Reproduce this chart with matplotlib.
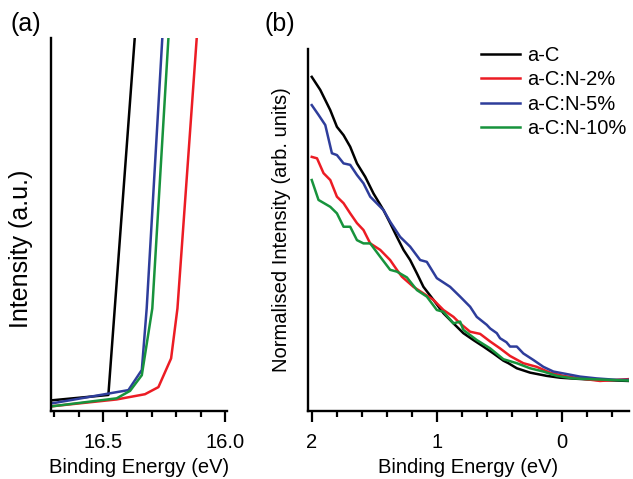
import matplotlib
matplotlib.use("Agg")
import matplotlib.pyplot as plt
from matplotlib.ticker import FixedLocator
import numpy as np

plt.rcParams['font.family'] = ['Liberation Sans', 'DejaVu Sans']
fs = 14.5

labels = ["a-C", "a-C:N-2%", "a-C:N-5%", "a-C:N-10%"]
colors = ["#000000", "#ec1c24", "#2e3d9b", "#17933c"]

# panel (a): valence band onset, binding energy (eV) vs intensity (a.u.)
a_E_aC = [16.704, 16.478, 16.370]
a_I_aC = [0.029, 0.043, 1.0]
a_E_2 = [16.704, 16.444, 16.328, 16.273, 16.221, 16.195, 16.116]
a_I_2 = [0.013, 0.031, 0.045, 0.064, 0.141, 0.275, 1.0]
a_E_5 = [16.704, 16.396, 16.341, 16.321, 16.257]
a_I_5 = [0.021, 0.056, 0.110, 0.275, 1.0]
a_E_10 = [16.704, 16.444, 16.389, 16.341, 16.298, 16.232]
a_I_10 = [0.013, 0.034, 0.054, 0.096, 0.275, 1.0]

# panel (b): normalised near-Fermi-level spectra
b_E_aC = [2.000, 1.932, 1.852, 1.799, 1.746, 1.693, 1.639, 1.573, 1.507, 1.427,
          1.374, 1.320, 1.267, 1.214, 1.160, 1.108, 1.028, 0.948, 0.868, 0.789,
          0.709, 0.629, 0.549, 0.469, 0.429, 0.362, 0.256, 0.123, 0.017, -0.116,
          -0.276, -0.53]
b_I_aC = [0.923, 0.887, 0.831, 0.785, 0.762, 0.730, 0.684, 0.647, 0.601, 0.555,
          0.519, 0.481, 0.445, 0.417, 0.380, 0.343, 0.307, 0.270, 0.242, 0.215,
          0.196, 0.178, 0.159, 0.139, 0.132, 0.118, 0.106, 0.097, 0.092, 0.089,
          0.086, 0.083]
b_E_2 = [2.000, 1.958, 1.906, 1.852, 1.799, 1.746, 1.693, 1.639, 1.587, 1.533,
         1.453, 1.374, 1.320, 1.280, 1.188, 1.108, 1.028, 0.948, 0.868, 0.815,
         0.735, 0.655, 0.575, 0.496, 0.416, 0.310, 0.203, 0.097, -0.010, -0.143,
         -0.302, -0.436, -0.53]
b_I_2 = [0.702, 0.698, 0.657, 0.638, 0.592, 0.574, 0.546, 0.519, 0.500, 0.463,
         0.445, 0.417, 0.390, 0.371, 0.343, 0.325, 0.307, 0.279, 0.260, 0.242,
         0.219, 0.213, 0.192, 0.173, 0.152, 0.132, 0.122, 0.106, 0.097, 0.090,
         0.083, 0.086, 0.088]
b_E_5 = [2.000, 1.946, 1.892, 1.839, 1.799, 1.746, 1.693, 1.639, 1.587, 1.533,
         1.427, 1.374, 1.294, 1.214, 1.134, 1.081, 1.001, 0.895, 0.815, 0.735,
         0.682, 0.602, 0.575, 0.522, 0.496, 0.445, 0.416, 0.362, 0.310, 0.230,
         0.150, 0.070, -0.037, -0.143, -0.276, -0.436, -0.53]
b_I_5 = [0.845, 0.818, 0.790, 0.712, 0.707, 0.684, 0.680, 0.652, 0.629, 0.592,
         0.555, 0.523, 0.481, 0.454, 0.417, 0.412, 0.367, 0.343, 0.316, 0.288,
         0.260, 0.238, 0.228, 0.215, 0.201, 0.190, 0.178, 0.178, 0.159, 0.141,
         0.122, 0.109, 0.102, 0.095, 0.090, 0.086, 0.086]
b_E_10 = [2.000, 1.946, 1.852, 1.799, 1.746, 1.693, 1.639, 1.587, 1.533, 1.453,
          1.374, 1.320, 1.240, 1.160, 1.081, 1.001, 0.948, 0.868, 0.815, 0.789,
          0.682, 0.575, 0.469, 0.362, 0.256, 0.150, 0.043, -0.089, -0.222, -0.382,
          -0.53]
b_I_10 = [0.638, 0.583, 0.564, 0.546, 0.509, 0.509, 0.472, 0.463, 0.463, 0.426,
          0.390, 0.385, 0.369, 0.334, 0.316, 0.279, 0.274, 0.242, 0.247, 0.224,
          0.196, 0.173, 0.143, 0.132, 0.118, 0.109, 0.097, 0.090, 0.088, 0.086,
          0.084]

a_data = [(a_E_aC, a_I_aC), (a_E_2, a_I_2), (a_E_5, a_I_5), (a_E_10, a_I_10)]
b_data = [(b_E_aC, b_I_aC), (b_E_2, b_I_2), (b_E_5, b_I_5), (b_E_10, b_I_10)]

fig = plt.figure(figsize=(6.33, 4.79), dpi=100)
axa = fig.add_axes([51/633, 1-411/479, 176/633, 373/479])
axb = fig.add_axes([308/633, 1-411/479, 321/633, 362/479])


def style(ax):
    for s in ['top', 'right']:
        ax.spines[s].set_visible(False)
    for s in ['left', 'bottom']:
        ax.spines[s].set_linewidth(1.7)
    ax.set_yticks([])
    ax.tick_params(axis='x', which='major', length=8, width=1.6, labelsize=fs, pad=8)
    ax.tick_params(axis='x', which='minor', length=4, width=1.6)


#(a)
for (e, i), c in zip(a_data, colors):
    axa.plot(e, i, color=c, lw=1.8)
axa.set_xlim(16.713, 15.992)
axa.set_ylim(0, 1.0)
axa.xaxis.set_major_locator(FixedLocator([16.5, 16.0]))
axa.xaxis.set_minor_locator(FixedLocator([16.7, 16.6, 16.4, 16.3, 16.2, 16.1]))
axa.set_xticklabels(["16.5", "16.0"])
style(axa)
axa.set_xlabel("Binding Energy (eV)", fontsize=fs, labelpad=4)
# label of panel (a) sits a bit lower than the axis centre and reads larger
fig.text(21/633, 1-249/479, "Intensity (a.u.)", fontsize=18, rotation=90,
         ha='center', va='center')

#(b)
for (e, i), c, l in zip(b_data, colors, labels):
    axb.plot(e, i, color=c, lw=1.8, label=l)
axb.set_xlim(2.03, -0.534)
axb.set_ylim(0, 1.0)
axb.xaxis.set_major_locator(FixedLocator([2, 1, 0]))
axb.xaxis.set_minor_locator(FixedLocator([1.8, 1.6, 1.4, 1.2, 0.8, 0.6, 0.4, 0.2, -0.2, -0.4]))
axb.set_xticklabels(["2", "1", "0"])
style(axb)
axb.set_xlabel("Binding Energy (eV)", fontsize=fs, labelpad=4)
axb.set_ylabel("Normalised Intensity (arb. units)", fontsize=fs, labelpad=12)
axb.legend(loc='upper left', bbox_to_anchor=(481/633, 1-46/479), bbox_transform=fig.transFigure,
           frameon=False, fontsize=fs, handlelength=1.95, handletextpad=0.35,
           labelspacing=0.27, borderpad=0, borderaxespad=0)

fig.text(10/633, 1-24/479, "(a)", fontsize=18, va='center', ha='left')
fig.text(264/633, 1-24/479, "(b)", fontsize=18, va='center', ha='left')

fig.savefig("out.png", dpi=100)
